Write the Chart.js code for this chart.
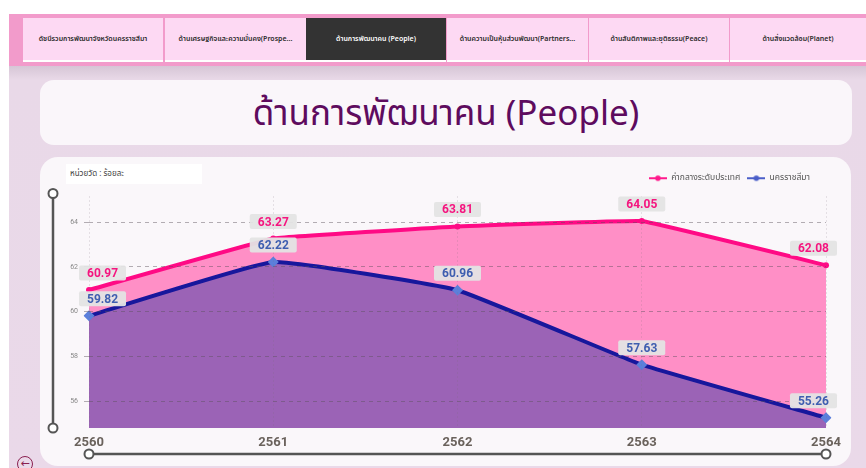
<!DOCTYPE html>
<html lang="th">
<head>
    <meta charset="UTF-8">
    <title>ด้านการพัฒนาคน (People)</title>
    <script src="https://cdn.jsdelivr.net/npm/chart.js"></script>
    <style>
        body { margin: 0; width: 866px; height: 468px; overflow: hidden; background: #fff; position: relative;
               font-family: "Noto Sans Thai", "Noto Sans", "DejaVu Sans", sans-serif; }
        .page { position: absolute; left: 9px; top: 14px; right: 0; bottom: 0;
                background: linear-gradient(#d6c6d6 52px, #e9d9e8 66px, #ead9e9); }
        .nav { position: absolute; left: 9px; top: 14px; right: 0; height: 52px; background: #f29bcb; }
        .tab { position: absolute; top: 4px; height: 42px; background: #fdd9f3; border-bottom: 2px solid #fff;
               font-size: 7px; font-weight: 600; color: #2a2a2a; display: flex; align-items: center;
               justify-content: center; white-space: nowrap; }
        .tab.active { background: #333; color: #fff; }
        .title-card { position: absolute; left: 40px; top: 80px; width: 812px; height: 65px; border-radius: 14px;
                      background: #faf6fa; text-align: center; line-height: 70px; font-size: 35px; color: #5e0b5e; }
        .chart-card { position: absolute; left: 40px; top: 157px; width: 811px; height: 309px; border-radius: 18px;
                      background: #faf7fa; }
        .unit { position: absolute; left: 26px; top: 7px; width: 136px; height: 20px; background: #fff;
                font-size: 8px; color: #444; line-height: 20px; padding-left: 4px; box-sizing: border-box; }
        .back { position: absolute; left: 17px; top: 456px; width: 14px; height: 14px; border-radius: 50%;
                border: 1.5px solid #8a2050; color: #8a2050; font-size: 11px; line-height: 13px; text-align: center; }
    </style>
</head>
<body>
    <div class="page"></div>
    <div class="nav">
        <div class="tab" style="left:14px;width:140px">ดัชนีรวมการพัฒนาจังหวัดนครราชสีมา</div>
        <div class="tab" style="left:156px;width:141px">ด้านเศรษฐกิจและความมั่นคง(Prospe...</div>
        <div class="tab active" style="left:297px;width:140px">ด้านการพัฒนาคน (People)</div>
        <div class="tab" style="left:438px;width:141px">ด้านความเป็นหุ้นส่วนพัฒนา(Partners...</div>
        <div class="tab" style="left:580px;width:140px">ด้านสันติภาพและยุติธรรม(Peace)</div>
        <div class="tab" style="left:721px;width:136px">ด้านสิ่งแวดล้อม(Planet)</div>
    </div>

    <div class="title-card">ด้านการพัฒนาคน (People)</div>

    <div class="chart-card">
        <canvas id="peopleChart" width="811" height="309"></canvas>
        <div class="unit">หน่วยวัด : ร้อยละ</div>
    </div>
    <div class="back">&#8592;</div>

    <script>
        // data
        const years = ['2560', '2561', '2562', '2563', '2564'];
        const nationalMedian = [60.97, 63.27, 63.81, 64.05, 62.08];
        const nakhonRatchasima = [59.82, 62.22, 60.96, 57.63, 55.26];
        const seriesNames = ['ค่ากลางระดับประเทศ', 'นครราชสีมา'];
        const yTicks = [56, 58, 60, 62, 64];

        const thaiFont = '"Noto Sans Thai", "Noto Sans", "DejaVu Sans", sans-serif';

        // small line + dot marker for the legend
        function legendMarker(color) {
            const c = document.createElement('canvas');
            c.width = 18; c.height = 8;
            const g = c.getContext('2d');
            g.strokeStyle = color; g.lineWidth = 2;
            g.beginPath(); g.moveTo(0, 4); g.lineTo(18, 4); g.stroke();
            g.fillStyle = color;
            g.beginPath(); g.arc(9, 4, 2.8, 0, Math.PI * 2); g.fill();
            return c;
        }

        // nudge the legend a bit up and away from the card edge
        const legendNudge = {
            id: 'legendNudge',
            afterLayout(chart) {
                const l = chart.legend;
                l.left -= 9; l.right -= 9;
                l.top -= 4; l.bottom -= 4;
            }
        };

        // grey boxed value labels above each point
        const valueLabels = {
            id: 'valueLabels',
            afterDraw(chart) {
                const ctx = chart.ctx, area = chart.chartArea;
                ctx.save();
                ctx.font = 'bold 12px Roboto, sans-serif';
                ctx.textAlign = 'center';
                ctx.textBaseline = 'middle';
                chart.data.datasets.forEach((ds, i) => {
                    chart.getDatasetMeta(i).data.forEach((pt, j) => {
                        const text = ds.data[j].toFixed(2);
                        const w = ctx.measureText(text).width + 16, h = 15;
                        const cx = Math.min(Math.max(pt.x, area.left - 10 + w / 2), area.right + 11 - w / 2);
                        const cy = pt.y - 17;
                        ctx.fillStyle = 'rgba(228,228,228,0.95)';
                        ctx.beginPath();
                        ctx.roundRect(cx - w / 2, cy - h / 2, w, h, 2);
                        ctx.fill();
                        ctx.fillStyle = ds.labelColor;
                        ctx.fillText(text, cx, cy + 1);
                    });
                });
                ctx.restore();
            }
        };

        // zoom sliders drawn beside the plot
        const sliders = {
            id: 'sliders',
            afterDraw(chart) {
                const ctx = chart.ctx, a = chart.chartArea;
                const vx = a.left - 36, hy = a.bottom + 26;
                ctx.save();
                ctx.strokeStyle = '#555';
                ctx.lineWidth = 2.5;
                ctx.beginPath(); ctx.moveTo(vx, a.top - 3); ctx.lineTo(vx, a.bottom); ctx.stroke();
                ctx.beginPath(); ctx.moveTo(a.left, hy); ctx.lineTo(a.right, hy); ctx.stroke();
                ctx.lineWidth = 2;
                ctx.fillStyle = '#fff';
                [[vx, a.top - 3], [vx, a.bottom], [a.left, hy], [a.right, hy]].forEach(([x, y]) => {
                    ctx.beginPath(); ctx.arc(x, y, 4.5, 0, Math.PI * 2); ctx.fill(); ctx.stroke();
                });
                ctx.restore();
            }
        };

        const ctx = document.getElementById('peopleChart').getContext('2d');
        new Chart(ctx, {
            type: 'line',
            data: {
                labels: years,
                datasets: [{
                    label: seriesNames[0],
                    data: nationalMedian,
                    borderColor: '#ff0a85',
                    backgroundColor: '#ff8fc6',
                    fill: 'start',
                    borderWidth: 4,
                    tension: 0.05,
                    pointStyle: 'circle',
                    pointRadius: 3,
                    pointBorderWidth: 0,
                    pointBackgroundColor: '#ff0a85',
                    labelColor: '#f5157f',
                    legendColor: '#ff1a8c',
                    order: 2
                }, {
                    label: seriesNames[1],
                    data: nakhonRatchasima,
                    borderColor: '#17179c',
                    backgroundColor: '#9b63b6',
                    fill: 'start',
                    borderWidth: 4,
                    tension: 0.1,
                    pointStyle: 'rectRot',
                    pointRadius: 5.5,
                    pointBorderWidth: 0,
                    pointBackgroundColor: '#5b7fdb',
                    labelColor: '#3f5eb0',
                    legendColor: '#4a5ec8',
                    order: 1
                }]
            },
            options: {
                responsive: false,
                animation: false,
                layout: { padding: { top: 14, right: 25, left: 0, bottom: 0 } },
                plugins: {
                    tooltip: { enabled: false },
                    legend: {
                        position: 'top',
                        align: 'end',
                        labels: {
                            usePointStyle: true,
                            pointStyleWidth: 18,
                            padding: 7,
                            color: '#555',
                            font: { family: thaiFont, size: 8.5 },
                            generateLabels: (chart) => chart.data.datasets.map((ds, i) => ({
                                text: ds.label,
                                pointStyle: legendMarker(ds.legendColor),
                                fillStyle: ds.legendColor,
                                strokeStyle: ds.legendColor,
                                lineWidth: 0,
                                fontColor: '#555',
                                hidden: false,
                                datasetIndex: i
                            }))
                        }
                    }
                },
                scales: {
                    x: {
                        offset: false,
                        grid: { z: 1, color: 'rgba(120,110,120,0.35)', drawTicks: false },
                        border: { display: false, dash: [1, 3] },
                        ticks: { color: '#6a625c', padding: 7, font: { family: 'Roboto', weight: 'bold', size: 13 } },
                        afterFit: (s) => { s.height = 38; }
                    },
                    y: {
                        min: 54.8,
                        max: 65.15,
                        afterBuildTicks: (s) => { s.ticks = yTicks.map(v => ({ value: v })); },
                        grid: { z: 1, color: 'rgba(90,80,90,0.45)', tickLength: 5 },
                        border: { display: false, dash: [4, 4] },
                        ticks: { color: '#888', padding: 6, font: { family: 'Roboto', size: 7 } },
                        afterFit: (s) => { s.width = 49; }
                    }
                }
            },
            plugins: [legendNudge, valueLabels, sliders]
        });
    </script>
</body>
</html>
